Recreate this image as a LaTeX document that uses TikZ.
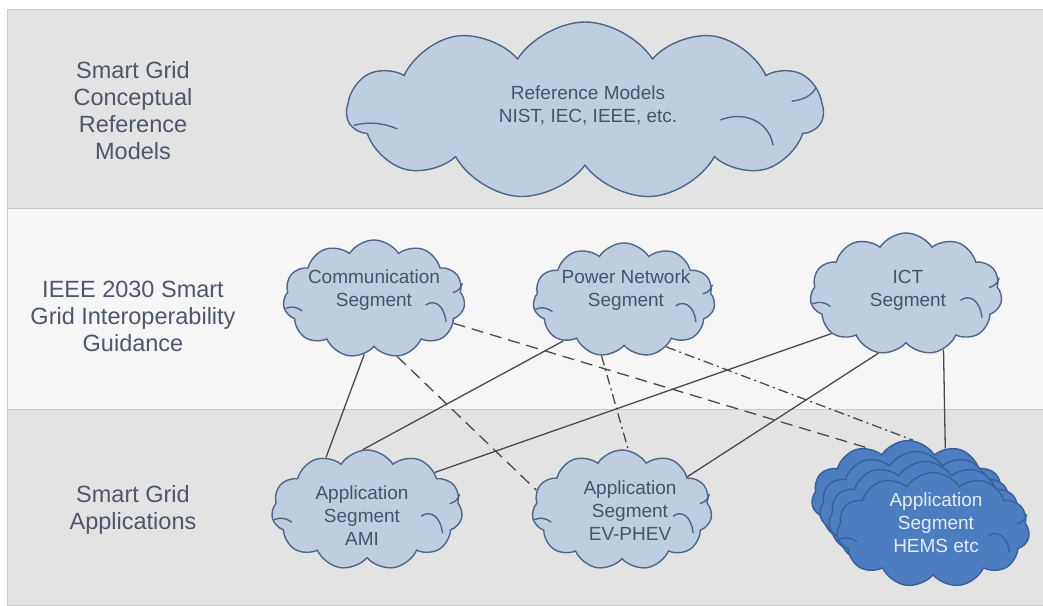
\documentclass[tikz,border=0pt]{standalone}
\usepackage{fontspec}
\setmainfont{Liberation Sans}
\usetikzlibrary{shapes.symbols}

\definecolor{bandgray}{HTML}{E3E3E3}
\definecolor{bandlight}{HTML}{F6F6F6}
\definecolor{bandedge}{HTML}{C9C9C9}
\definecolor{cloudfill}{HTML}{BFCDE0}
\definecolor{cloudedge}{HTML}{4E6689}
\definecolor{cloudtext}{HTML}{46536B}
\definecolor{labeltext}{HTML}{4E5669}
\definecolor{hemsfill}{HTML}{4C7DC0}
\definecolor{hemsedge}{HTML}{37609A}
\definecolor{hemstext}{HTML}{E4ECF6}
\definecolor{linkcolor}{HTML}{4A4A4A}

\pgfdeclarelayer{bands}
\pgfdeclarelayer{links}
\pgfsetlayers{bands,links,main}

% inner folds of a cloud: #2 node, #3 half width, #4 half height (pt)
\newcommand\cloudtucks[4][cloudedge]{%
  \begin{scope}[shift={(#2.center)}, x=#3pt, y=-#4pt]
    \draw[#1, line width=1.4pt, line cap=round]
      (-0.97,0.16) .. controls (-0.91,0.12) and (-0.85,0.13) .. (-0.79,0.2);
    \draw[#1, line width=1.4pt, line cap=round]
      (0.57,0.1) .. controls (0.66,0.0) and (0.77,0.1) .. (0.79,0.38);
    \draw[#1, line width=1.4pt, line cap=round]
      (0.97,-0.26) .. controls (0.95,-0.17) and (0.92,-0.13) .. (0.87,-0.11);
  \end{scope}}

\begin{document}
\begin{tikzpicture}[x=1pt,y=-1pt,
  band/.style={draw=bandedge, line width=1pt},
  segcloud/.style={cloud, cloud puffs=11, cloud puff arc=115, cloud ignores aspect,
    draw=cloudedge, line width=1.4pt, fill=cloudfill, inner sep=0pt},
  hemscloud/.style={segcloud, draw=hemsedge, fill=hemsfill,
    minimum width=193pt, minimum height=115pt},
  cloudlabel/.style={font=\fontsize{19}{23}\selectfont, text=cloudtext, align=center},
  hemslabel/.style={cloudlabel, text=hemstext},
  layerlabel/.style={font=\fontsize{23.5}{27}\selectfont, text=labeltext, align=center},
  link/.style={draw=linkcolor, line width=1.3pt},
  dashlink/.style={link, dash pattern=on 12pt off 7pt},
  dotlink/.style={link, dash pattern=on 10pt off 4pt on 2pt off 4pt},
]
\useasboundingbox (0,0) rectangle (1043,605);

% three horizontal layers
\begin{pgfonlayer}{bands}
\fill[white] (0,0) rectangle (1043,605);
\filldraw[band, fill=bandgray]  (7,9)   rectangle (1043,208);
\filldraw[band, fill=bandlight] (7,208) rectangle (1043,409);
\filldraw[band, fill=bandgray]  (7,409) rectangle (1043,605);
\end{pgfonlayer}

% layer captions
\node[layerlabel] (capTop) at (133,111) {Smart Grid\\Conceptual\\Reference\\Models};
\node[layerlabel] (capMid) at (133,316) {IEEE 2030 Smart\\Grid Interoperability\\Guidance};
\node[layerlabel] (capBot) at (133,510) {Smart Grid\\Applications};

% clouds
\node[segcloud, minimum width=476pt, minimum height=178pt] (ref) at (585,111) {};
\node[segcloud, minimum width=182pt, minimum height=118pt] (comm) at (374,299) {};
\node[segcloud, minimum width=182pt, minimum height=114pt] (power) at (624,300) {};
\node[segcloud, minimum width=192pt, minimum height=122pt] (ict) at (906,294) {};
\node[segcloud, minimum width=191pt, minimum height=120pt] (ami) at (367,510) {};
\node[segcloud, minimum width=180pt, minimum height=120pt] (ev) at (622,510) {};
\cloudtucks{ref}{238}{89}
\cloudtucks{comm}{91}{59}
\cloudtucks{power}{91}{57}
\cloudtucks{ict}{96}{61}
\cloudtucks{ami}{95.5}{60}
\cloudtucks{ev}{90}{60}

% stacked HEMS clouds, back to front
\node[hemscloud] (hemsD) at (908,498) {};
\node[hemscloud] (hemsC) at (916,509) {};
\node[hemscloud] (hemsB) at (925,519) {};
\node[hemscloud] (hems)  at (933,530) {};
\cloudtucks[hemsedge]{hems}{96.5}{57.5}

% cloud texts
\node[cloudlabel] (refText)   at (588,105) {Reference Models\\NIST, IEC, IEEE, etc.};
\node[cloudlabel] (commText)  at (374,290) {Communication\\Segment};
\node[cloudlabel] (powerText) at (626,290) {Power Network\\Segment};
\node[cloudlabel] (ictText)   at (908,290) {ICT\\Segment};
\node[cloudlabel] (amiText)   at (362,516) {Application\\Segment\\AMI};
\node[cloudlabel] (evText)    at (630,511) {Application\\Segment\\EV-PHEV};
\node[hemslabel]  (hemsText)  at (936,523) {Application\\Segment\\HEMS etc};

% connectors, kept beneath the clouds
\begin{pgfonlayer}{links}
\draw[link] (comm.-100) -- (ami.128);
\draw[link] (power.-146) -- (ami.94);
\draw[link] (ict.-152) -- (ami.29);
\draw[link] (ict.-115) -- (ev.27);
\draw[link] (ict.-56) -- (hemsD.53);
\draw[dashlink] (comm.-68) -- (ev.167);
\draw[dashlink] (comm.-17) -- (hemsD.129);
\draw[dotlink] (power.-112) -- (ev.84);
\draw[dotlink] (power.-48) -- (hemsD.85);
\end{pgfonlayer}
\end{tikzpicture}
\end{document}
